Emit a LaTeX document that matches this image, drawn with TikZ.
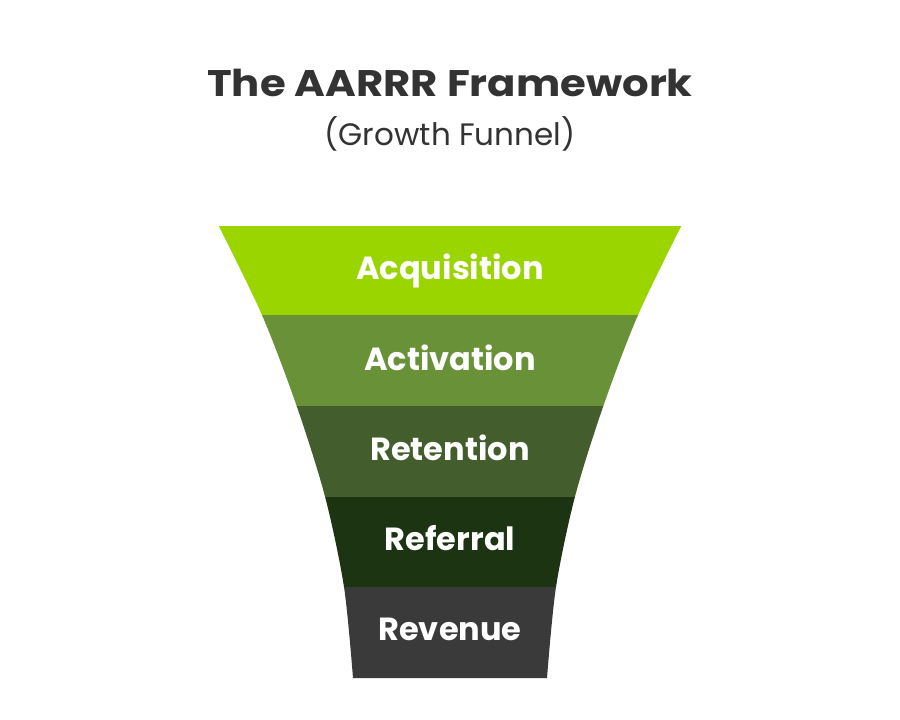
\documentclass[tikz,border=0pt]{standalone}
\usepackage{fontspec}
\setmainfont{Poppins}
\usepackage{xcolor}
\usetikzlibrary{calc}

\definecolor{titlegray}{HTML}{333333}
\definecolor{acqgreen}{HTML}{9AD500}
\definecolor{actgreen}{HTML}{699138}
\definecolor{retgreen}{HTML}{435E2C}
\definecolor{refgreen}{HTML}{1C3411}
\definecolor{revgray}{HTML}{3A3A3A}

\tikzset{
  stagelabel/.style={text=white, anchor=base, inner sep=0pt,
    font=\bfseries\fontsize{32}{32}\selectfont},
}

\begin{document}
\begin{tikzpicture}[x=1pt, y=-1pt]
  \useasboundingbox (0,0) rectangle (900,720);
  \fill[white] (0,0) rectangle (900,720);
  % Title
  \node[anchor=base, inner sep=0pt, xscale=1.13, text=titlegray, font=\bfseries\fontsize{37}{37}\selectfont]
    (title) at (450,96) {The AARRR Framework};
  \node[anchor=base, inner sep=0pt, text=titlegray, font=\fontsize{31}{31}\selectfont]
    (subtitle) at (450,145) {(Growth Funnel)};
  % Funnel bands, clipped to the curved outline
  \begin{scope}
    \clip plot[smooth, tension=0.5]
      coordinates{(218.5,225.5) (262,315) (296.5,405.5) (325,496.5) (344,587) (353,678)}
      -- plot[smooth, tension=0.5]
      coordinates{(547,678) (556,587) (575,496.5) (603.5,405.5) (638,315) (681.5,225.5)}
      -- cycle;
    \foreach \top/\col in {225.5/acqgreen, 315/actgreen, 405.5/retgreen, 496.5/refgreen, 587/revgray}
      \fill[\col] (200,\top) rectangle (700,\top+91.5);
  \end{scope}
  % Stage names
  \node[stagelabel] (acq) at (450,279) {Acquisition};
  \node[stagelabel] (act) at (450,370) {Activation};
  \node[stagelabel] (ret) at (450,460) {Retention};
  \node[stagelabel] (ref) at (450,550) {Referral};
  \node[stagelabel] (rev) at (450,640) {Revenue};
\end{tikzpicture}
\end{document}
